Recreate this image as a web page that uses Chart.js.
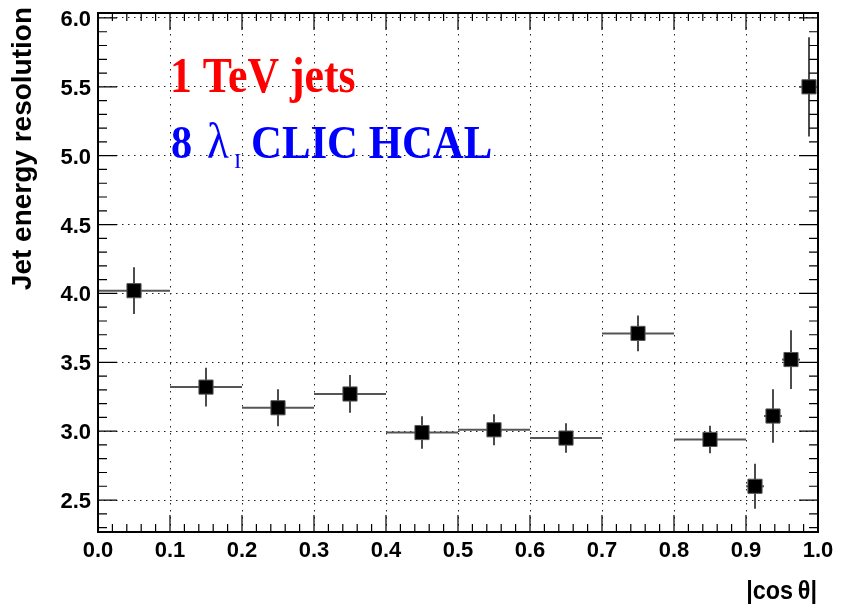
<!DOCTYPE html>
<html>
<head>
<meta charset="utf-8">
<script src="https://cdn.jsdelivr.net/npm/chart.js@4.4.0/dist/chart.umd.min.js"></script>
<style>
  html, body { margin: 0; padding: 0; background: #ffffff; }
  #wrap { width: 843px; height: 607px; }
</style>
</head>
<body>
<div id="wrap"><canvas id="c" width="843" height="607"></canvas></div>
<script>
// |cos theta| bins and the jet energy resolution measured in each
const binLow  = [0.0, 0.1, 0.2, 0.3, 0.4, 0.5, 0.6, 0.7, 0.8, 0.9, 0.925, 0.95, 0.975];
const binHigh = [0.1, 0.2, 0.3, 0.4, 0.5, 0.6, 0.7, 0.8, 0.9, 0.925, 0.95, 0.975, 1.0];
const resolution    = [4.02, 3.32, 3.17, 3.27, 2.99, 3.01, 2.95, 3.71, 2.94, 2.60, 3.11, 3.52, 5.50];
const resolutionErr = [0.17, 0.14, 0.135, 0.137, 0.118, 0.113, 0.107, 0.13, 0.10, 0.163, 0.194, 0.213, 0.36];

const xTickLabels = ['0.0', '0.1', '0.2', '0.3', '0.4', '0.5', '0.6', '0.7', '0.8', '0.9', '1.0'];
const yTickLabels = ['2.5', '3.0', '3.5', '4.0', '4.5', '5.0', '5.5', '6.0'];

const xTickValues = xTickLabels.map(Number);
const yTickValues = yTickLabels.map(Number);

const points = binLow.map((lo, i) => ({ x: (lo + binHigh[i]) / 2, y: resolution[i] }));

const SANS = '"Liberation Sans", Arial, Helvetica, sans-serif';
const SERIF = '"Liberation Serif", "Times New Roman", serif';

function drawScaled(ctx, text, font, color, x, y, sx, align) {
  ctx.save();
  ctx.font = font;
  ctx.fillStyle = color;
  ctx.textAlign = align || 'left';
  ctx.textBaseline = 'alphabetic';
  ctx.translate(x, y);
  ctx.scale(sx, 1);
  ctx.fillText(text, 0, 0);
  ctx.restore();
}

// inward tick marks on all four sides of the frame
const ticksPlugin = {
  id: 'rootTicks',
  beforeDatasetsDraw(chart) {
    const { ctx, chartArea: a, scales: { x, y } } = chart;
    ctx.save();
    ctx.strokeStyle = '#000';
    ctx.lineWidth = 1.2;
    ctx.beginPath();
    for (let k = 0; k <= 50; k++) {
      const v = k * 0.02;
      const px = x.getPixelForValue(v);
      const len = (k % 5 === 0) ? 17 : 8;
      ctx.moveTo(px, a.bottom); ctx.lineTo(px, a.bottom - len);
      ctx.moveTo(px, a.top); ctx.lineTo(px, a.top + len);
    }
    for (let k = 23; k <= 60; k++) {
      const v = k / 10;
      const py = y.getPixelForValue(v);
      const len = (k % 5 === 0) ? 19 : 9;
      ctx.moveTo(a.left, py); ctx.lineTo(a.left + len, py);
      ctx.moveTo(a.right, py); ctx.lineTo(a.right - len, py);
    }
    ctx.stroke();
    ctx.restore();
  }
};

// bin-width and uncertainty bars behind each marker
const errorBarPlugin = {
  id: 'errorBars',
  beforeDatasetsDraw(chart) {
    const { ctx, scales: { x, y } } = chart;
    ctx.save();
    binLow.forEach((lo, i) => {
      const xc = x.getPixelForValue((lo + binHigh[i]) / 2);
      const yc = y.getPixelForValue(resolution[i]);
      ctx.strokeStyle = '#555';
      ctx.lineWidth = 2;
      ctx.beginPath();
      ctx.moveTo(x.getPixelForValue(lo), yc);
      ctx.lineTo(x.getPixelForValue(binHigh[i]), yc);
      ctx.stroke();
      ctx.strokeStyle = '#111';
      ctx.lineWidth = 1.5;
      ctx.beginPath();
      ctx.moveTo(xc, y.getPixelForValue(resolution[i] + resolutionErr[i]));
      ctx.lineTo(xc, y.getPixelForValue(resolution[i] - resolutionErr[i]));
      ctx.stroke();
    });
    ctx.restore();
  }
};

// frame, tick labels, axis titles and the in-plot captions
const decorPlugin = {
  id: 'decor',
  afterDraw(chart) {
    const { ctx, chartArea: a, scales: { x, y } } = chart;
    ctx.save();
    ctx.strokeStyle = '#000';
    ctx.lineWidth = 2;
    ctx.strokeRect(a.left, a.top, a.right - a.left, a.bottom - a.top);

    ctx.fillStyle = '#000';
    ctx.font = 'bold 22px ' + SANS;
    ctx.textBaseline = 'alphabetic';
    ctx.textAlign = 'center';
    xTickLabels.forEach((t, i) => {
      ctx.fillText(t, x.getPixelForValue(xTickValues[i]), a.bottom + 25);
    });
    ctx.textAlign = 'right';
    yTickLabels.forEach((t, i) => {
      ctx.fillText(t, a.left - 7, y.getPixelForValue(yTickValues[i]) + 8);
    });

    // y-axis title, aligned to the top end of the axis
    ctx.save();
    ctx.font = 'bold 28px ' + SANS;
    ctx.translate(31, 7);
    ctx.rotate(-Math.PI / 2);
    ctx.textAlign = 'right';
    ctx.fillText('Jet energy resolution', 0, 0);
    ctx.restore();

    // x-axis title, aligned to the right end of the axis
    drawScaled(ctx, '|cos\u2009\u03b8|', 'bold 26px ' + SANS, '#000', a.right - 1, 599, 0.9, 'right');

    // captions
    drawScaled(ctx, '1 TeV jets', 'bold 50px ' + SERIF, '#ff0000', 170, 92, 0.875);
    drawScaled(ctx, '8', 'bold 47px ' + SERIF, '#0000ff', 171, 158, 0.9);
    drawScaled(ctx, '\u03bb', '50px ' + SERIF, '#0000ff', 207, 158, 0.9);
    drawScaled(ctx, 'I', '22px ' + SERIF, '#0000ff', 234, 168, 1);
    drawScaled(ctx, 'CLIC HCAL', 'bold 47px ' + SERIF, '#0000ff', 251, 158, 0.91);
    ctx.restore();
  }
};

new Chart(document.getElementById('c').getContext('2d'), {
  type: 'scatter',
  data: {
    datasets: [{
      data: points,
      pointStyle: 'rect',
      pointRadius: 10,
      pointHoverRadius: 10,
      backgroundColor: '#000',
      borderColor: '#555',
      borderWidth: 1
    }]
  },
  options: {
    responsive: false,
    animation: false,
    devicePixelRatio: 1,
    events: [],
    layout: { padding: { left: 0, top: 13, right: 25, bottom: 0 } },
    plugins: { legend: { display: false }, tooltip: { enabled: false } },
    scales: {
      x: {
        type: 'linear',
        min: 0,
        max: 1,
        afterBuildTicks: s => { s.ticks = xTickValues.map(v => ({ value: v })); },
        afterFit: s => { s.height = 75; },
        ticks: { display: false },
        grid: { color: '#222', lineWidth: 1, drawTicks: false },
        border: { display: false, dash: [1.5, 5.5] }
      },
      y: {
        type: 'linear',
        min: 2.268,
        max: 6.036,
        afterBuildTicks: s => { s.ticks = yTickValues.map(v => ({ value: v })); },
        afterFit: s => { s.width = 98; },
        ticks: { display: false },
        grid: { color: '#222', lineWidth: 1, drawTicks: false },
        border: { display: false, dash: [1.5, 4.5] }
      }
    }
  },
  plugins: [ticksPlugin, errorBarPlugin, decorPlugin]
});
</script>
</body>
</html>
